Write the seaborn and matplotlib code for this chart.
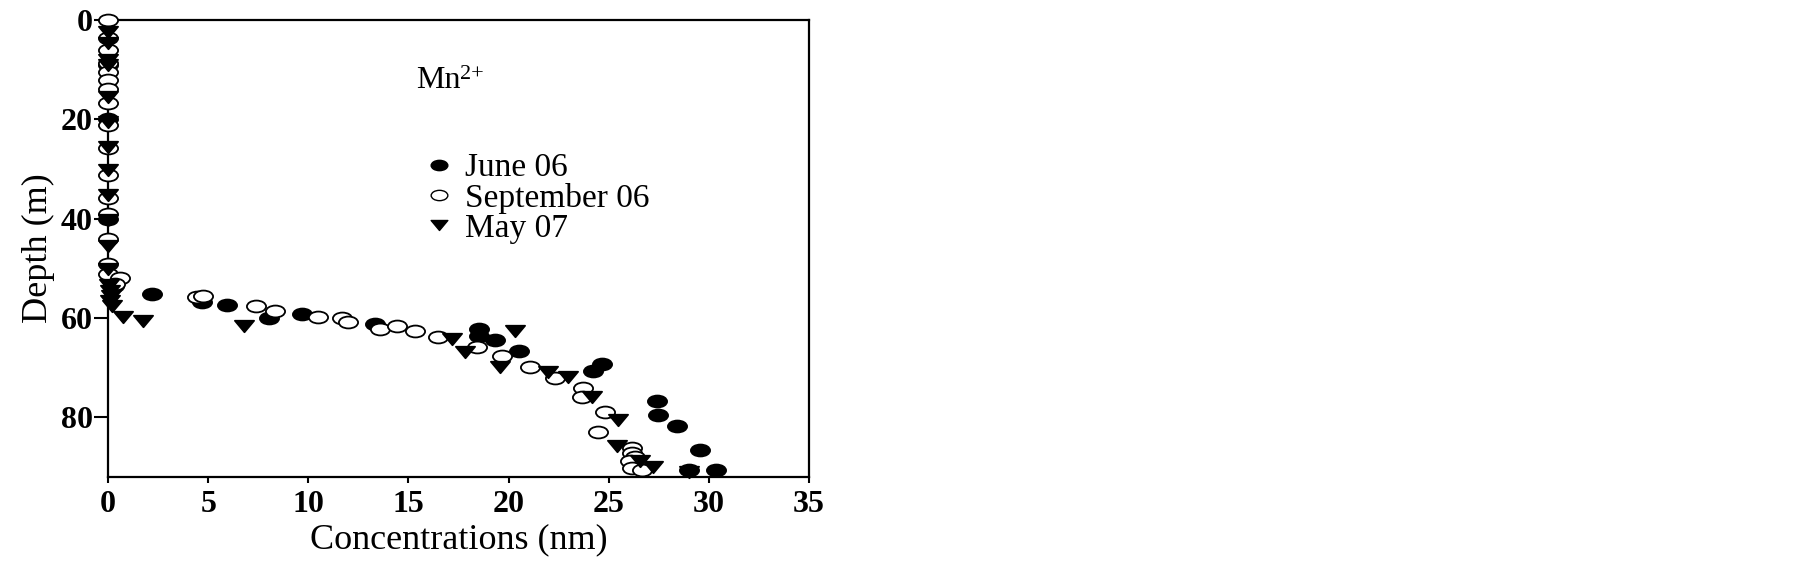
import numpy as np
import matplotlib
matplotlib.use("Agg")
import matplotlib.pyplot as plt
import seaborn as sns
from matplotlib.path import Path
from matplotlib.transforms import Affine2D
from matplotlib.lines import Line2D

# Mn2+ profiles: concentration (nm) vs depth (m)
june_conc = [0, 0, 0, 0.3, 2.18, 4.68, 5.93, 8.05, 9.67, 13.33, 18.5, 18.5,
             19.3, 20.5, 24.65, 24.23, 27.39, 27.47, 28.39, 29.56, 29.02, 30.35]
june_depth = [9, 20, 40, 53.5, 55.2, 56.8, 57.3, 60.0, 59.1, 61.2, 62.3, 63.6,
              64.5, 66.7, 69.2, 70.6, 76.6, 79.6, 81.7, 86.6, 90.6, 90.6]

sept_conc = [0, 0, 0, 0, 0, 0, 0, 0, 0, 0, 0, 0, 0, 0, 0, 0, 0.6, 0.35,
             4.43, 4.76, 7.39, 8.34, 10.5, 11.67, 12.0, 13.58, 14.41, 15.33,
             16.49, 18.4, 19.65, 21.07, 22.3, 23.73, 23.65, 24.81, 24.48,
             26.14, 26.14, 26.3, 26.06, 26.14, 26.64]
sept_depth = [0, 3.7, 6.0, 8.7, 10.4, 12.1, 13.8, 16.8, 21.2, 25.8, 31.2, 35.9,
              39.0, 44.0, 49.1, 51.2, 52.0, 53.2,
              55.8, 55.6, 57.6, 58.5, 59.7, 59.9, 60.8, 62.2, 61.7, 62.6,
              63.8, 65.9, 67.7, 69.9, 72.1, 74.1, 75.8, 79.0, 83.0,
              86.2, 87.2, 88.0, 88.8, 90.2, 90.6]

may_conc = [0, 0, 0, 0, 0, 0, 0, 0, 0, 0, 0, 0, 0.05, 0.1, 0.15, 0.1, 0.2,
            0.77, 1.76, 6.79, 17.16, 17.82, 20.3, 19.57, 21.98, 22.98, 24.15,
            25.48, 25.4, 26.56, 27.19, 29.0]
may_depth = [2.4, 4.7, 8.1, 9.1, 15.5, 20.5, 25.5, 30.2, 35.3, 40.3, 45.4, 50.1,
             53.4, 54.6, 55.6, 56.6, 57.6,
             59.7, 60.6, 61.7, 64.2, 66.9, 62.6, 69.9, 70.9, 71.9, 75.8,
             80.6, 85.7, 88.7, 89.9, 91.0]

series_labels = ["June 06", "September 06", "May 07"]
x_ticks = [0, 5, 10, 15, 20, 25, 30, 35]
y_ticks = [0, 20, 40, 60, 80]

sns.set_style("ticks")
plt.rcParams["font.family"] = ["Liberation Serif", "DejaVu Sans"]
plt.rcParams["text.color"] = "black"
plt.rcParams["axes.labelcolor"] = "black"
plt.rcParams["xtick.color"] = "black"
plt.rcParams["ytick.color"] = "black"

# squashed markers like the original
ellipse = Path.unit_circle().transformed(Affine2D().scale(1, 0.62))
tri = Path([(-1, 0.6), (1, 0.6), (0, -0.6), (-1, 0.6)],
           [Path.MOVETO, Path.LINETO, Path.LINETO, Path.CLOSEPOLY])

fig = plt.figure(figsize=(18.05, 5.71), dpi=100)
ax = fig.add_axes([108 / 1805, 1 - 477 / 571, 701 / 1805, 457 / 571])

common = dict(s=190, linewidth=1.3, clip_on=False, zorder=3, ax=ax)
sns.scatterplot(x=june_conc, y=june_depth, marker=ellipse, color="black",
                edgecolor="black", **common)
sns.scatterplot(x=sept_conc, y=sept_depth, marker=ellipse, color="white",
                edgecolor="black", **common)
sns.scatterplot(x=may_conc, y=may_depth, marker=tri, color="black",
                edgecolor="black", **common)

ax.set_xlim(0, 35)
ax.set_ylim(92, 0)
ax.set_xticks(x_ticks, [str(t) for t in x_ticks], fontweight="bold", fontsize=23)
ax.set_yticks(y_ticks, [str(t) for t in y_ticks], fontweight="bold", fontsize=23)
ax.tick_params(axis="y", direction="out", length=10, width=1.5, pad=1)
ax.tick_params(axis="x", direction="out", length=4, width=1.5, pad=5.5)
for sp in ax.spines.values():
    sp.set_linewidth(1.6)
    sp.set_color("black")

ax.set_xlabel("Concentrations (nm)", fontsize=26, labelpad=3)
ax.set_ylabel("Depth (m)", fontsize=26, labelpad=4)

mn = ax.text(0.439, 0.851, "Mn", transform=ax.transAxes,
             fontsize=23, va="baseline", ha="left")
ax.annotate("2+", xy=(1.0, 1.03), xycoords=mn, fontsize=16,
            va="top", ha="left")

handles = [
    Line2D([], [], ls="", marker=ellipse, markersize=12, mfc="black", mec="black"),
    Line2D([], [], ls="", marker=ellipse, markersize=12, mfc="white", mec="black"),
    Line2D([], [], ls="", marker=tri, markersize=12, mfc="black", mec="black"),
]
ax.legend(handles, series_labels, loc="upper left", bbox_to_anchor=(0.448, 0.709),
          frameon=False, fontsize=24, handlelength=1.0, handletextpad=0.3,
          labelspacing=-0.02, borderpad=0, borderaxespad=0)

fig.savefig("out.png", dpi=100)
